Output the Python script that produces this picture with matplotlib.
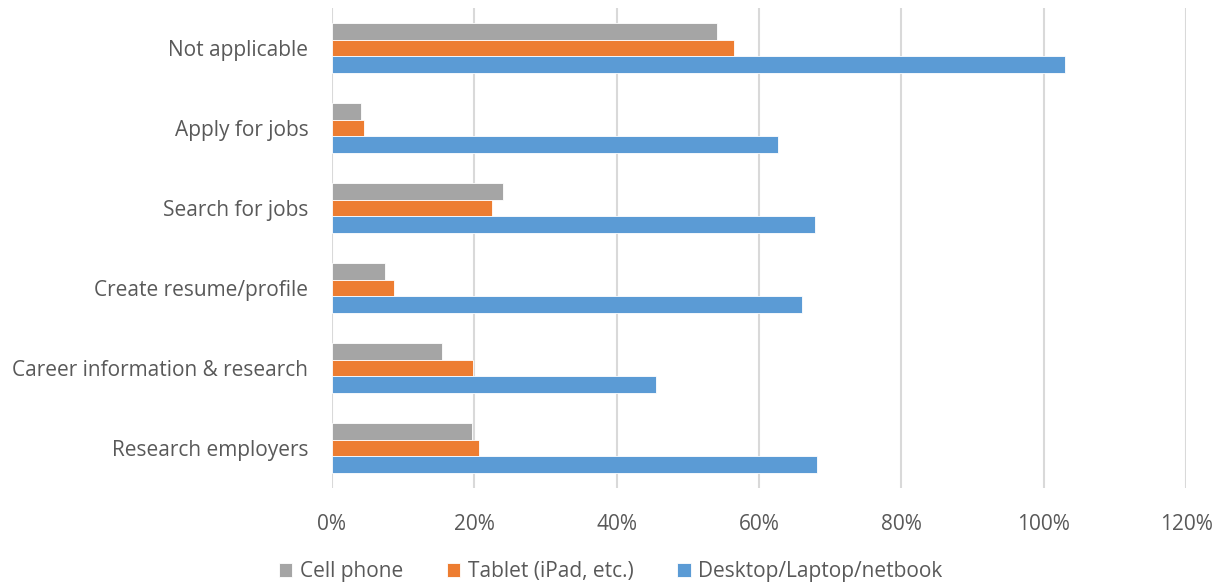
import matplotlib
matplotlib.use("Agg")
import matplotlib.pyplot as plt
import numpy as np
from matplotlib.ticker import FuncFormatter

categories = ["Not applicable", "Apply for jobs", "Search for jobs",
              "Create resume/profile", "Career information & research",
              "Research employers"]
series_names = ["Cell phone", "Tablet (iPad, etc.)", "Desktop/Laptop/netbook"]
cell_phone = [54.1, 4.1, 24.0, 7.4, 15.5, 19.7]
tablet = [56.5, 4.5, 22.5, 8.7, 19.8, 20.7]
desktop = [103.0, 62.6, 67.8, 66.0, 45.5, 68.2]
x_ticks = [0, 20, 40, 60, 80, 100, 120]

colors = ["#A5A5A5", "#ED7D31", "#5B9BD5"]
text_color = "#595959"

plt.rcParams["font.family"] = ["Open Sans", "DejaVu Sans"]

fig = plt.figure(figsize=(12.21, 5.88), dpi=100)
ax = fig.add_axes([332 / 1221, 1 - 488 / 588, (1186 - 332) / 1221, 480 / 588])

y = np.arange(len(categories))
h = 0.208
for i, (vals, name) in enumerate(zip([cell_phone, tablet, desktop], series_names)):
    ax.barh(y + (i - 1) * h, vals, height=h, color=colors[i], label=name,
            edgecolor="white", linewidth=0.6, zorder=3)

ax.set_xlim(0, 120)
ax.set_ylim(len(categories) - 0.5, -0.5)
ax.set_xticks(x_ticks)
ax.xaxis.set_major_formatter(FuncFormatter(lambda v, p: f"{v:.0f}%"))
ax.set_yticks(y)
ax.set_yticklabels(categories)
ax.grid(axis="x", color="#D9D9D9", linewidth=1.5, zorder=0)
for s in ax.spines.values():
    s.set_visible(False)
ax.tick_params(axis="both", length=0, labelsize=15, colors=text_color)
ax.tick_params(axis="x", pad=19)
ax.tick_params(axis="y", pad=17)

handles, labels = ax.get_legend_handles_labels()
fig.legend(handles, labels, loc="center", bbox_to_anchor=(0.5, 1 - 572 / 588),
           ncol=3, frameon=False, fontsize=15, labelcolor=text_color,
           handlelength=0.65, handleheight=0.65, handletextpad=0.35,
           columnspacing=2.1)

fig.savefig("out.png", dpi=100, facecolor="white")
